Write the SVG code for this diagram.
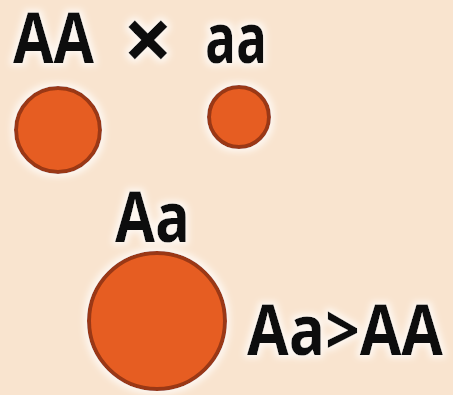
<svg xmlns="http://www.w3.org/2000/svg" width="453" height="395" viewBox="0 0 453 395">
  <defs>
    <filter id="halo" filterUnits="userSpaceOnUse" x="0" y="0" width="453" height="395">
      <feMorphology in="SourceAlpha" operator="dilate" radius="3" result="d"/>
      <feGaussianBlur in="d" stdDeviation="3" result="b"/>
      <feFlood flood-color="#ffffff" flood-opacity="0.7"/>
      <feComposite in2="b" operator="in" result="h"/>
      <feMerge><feMergeNode in="h"/><feMergeNode in="SourceGraphic"/></feMerge>
    </filter>
  </defs>
  <style>
    .lbl { font-family: "Open Sans", "Liberation Sans", sans-serif; font-weight: 700; font-size: 70px; fill: #111; filter: url(#halo); }
    .cell { fill: #e65d22; stroke: #9a3812; stroke-width: 4; filter: url(#halo); }
  </style>
  <rect width="453" height="395" fill="#f9e4cf"/>
  <g id="parentAA">
    <text class="lbl" x="13" y="63" textLength="81" lengthAdjust="spacingAndGlyphs">AA</text>
    <circle class="cell" cx="58" cy="130" r="42"/>
  </g>
  <g id="cross">
    <text class="lbl" x="148" y="71" text-anchor="middle" style="font-size:88px">×</text>
  </g>
  <g id="parentaa">
    <text class="lbl" x="205" y="63" textLength="62" lengthAdjust="spacingAndGlyphs">aa</text>
    <circle class="cell" cx="239" cy="117" r="30"/>
  </g>
  <g id="hybrid">
    <text class="lbl" x="115" y="242" textLength="75" lengthAdjust="spacingAndGlyphs">Aa</text>
    <circle class="cell" cx="157" cy="321" r="68"/>
  </g>
  <g id="comparison">
    <text class="lbl" x="247" y="355" textLength="196" lengthAdjust="spacingAndGlyphs">Aa&gt;AA</text>
  </g>
  <g id="connectors"/>
</svg>
